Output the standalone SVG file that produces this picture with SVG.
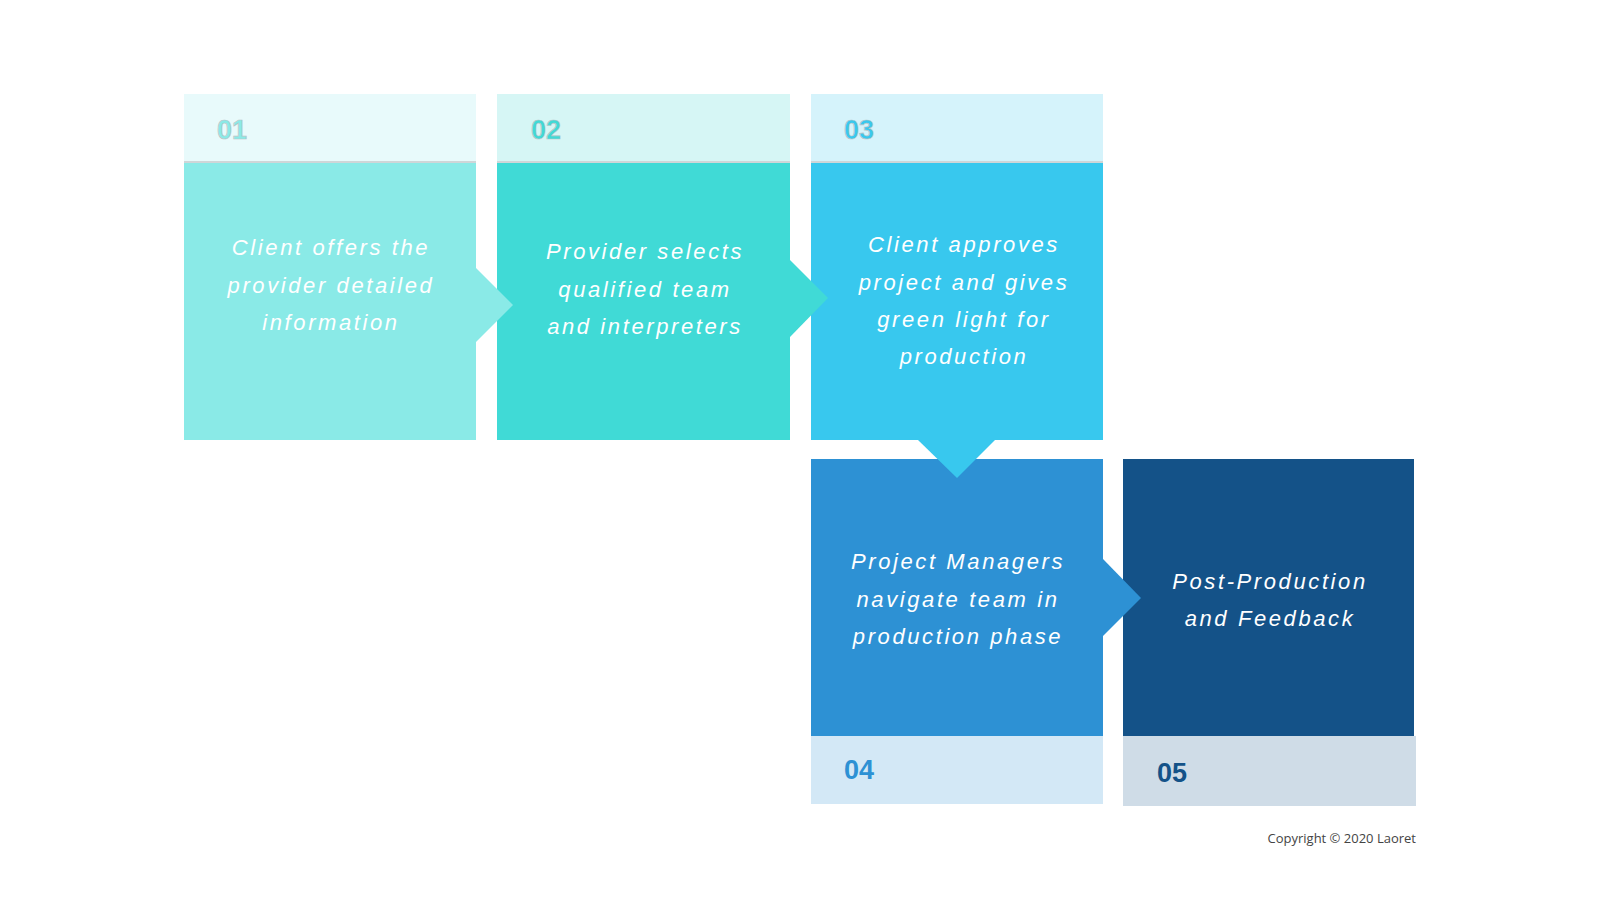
<svg xmlns="http://www.w3.org/2000/svg" width="1600" height="900" viewBox="0 0 1600 900">
<style>
.lbl{font-family:"Liberation Sans",Arial,sans-serif;font-style:italic;font-size:22px;letter-spacing:2.6px;fill:#ffffff;text-anchor:middle}
.num{font-family:"Liberation Sans",Arial,sans-serif;font-weight:bold;font-size:27px}
.numo{stroke:#b9c4c6;stroke-width:0.7}
.div{stroke:#cfd6d8;stroke-width:2}
.copy{font-family:"Open Sans","Liberation Sans",sans-serif;font-size:13px;fill:#444444;text-anchor:end}
</style>
<rect width="1600" height="900" fill="#ffffff"/>
<g id="step1">
<rect x="184" y="94" width="292" height="68" fill="#E8FAFB"/>
<rect x="184" y="162" width="292" height="278" fill="#8AEAE7"/>
<line class="div" x1="184" y1="162" x2="476" y2="162"/>
<text class="num numo" x="217" y="139" fill="#8AEAE7">01</text>
<text class="lbl" x="331" y="255">Client offers the</text>
<text class="lbl" x="331" y="293">provider detailed</text>
<text class="lbl" x="331" y="330">information</text>
</g>
<g id="step2">
<rect x="497" y="94" width="293" height="68" fill="#D6F6F5"/>
<rect x="497" y="162" width="293" height="278" fill="#40DAD6"/>
<line class="div" x1="497" y1="162" x2="790" y2="162"/>
<text class="num numo" x="531" y="139" fill="#40DAD6">02</text>
<text class="lbl" x="645" y="259">Provider selects</text>
<text class="lbl" x="645" y="297">qualified team</text>
<text class="lbl" x="645" y="334">and interpreters</text>
</g>
<g id="step3">
<rect x="811" y="94" width="292" height="68" fill="#D5F3FB"/>
<rect x="811" y="162" width="292" height="278" fill="#38C8EE"/>
<line class="div" x1="811" y1="162" x2="1103" y2="162"/>
<text class="num numo" x="844" y="139" fill="#38C8EE">03</text>
<text class="lbl" x="964" y="252">Client approves</text>
<text class="lbl" x="964" y="290">project and gives</text>
<text class="lbl" x="964" y="327">green light for</text>
<text class="lbl" x="964" y="364">production</text>
</g>
<g id="step4">
<rect x="811" y="459" width="292" height="277" fill="#2D91D4"/>
<rect x="811" y="736" width="292" height="68" fill="#D3E8F6"/>
<text class="num" x="844" y="779" fill="#2D91D4">04</text>
<text class="lbl" x="958" y="569">Project Managers</text>
<text class="lbl" x="958" y="607">navigate team in</text>
<text class="lbl" x="958" y="644">production phase</text>
</g>
<g id="step5">
<rect x="1123" y="459" width="291" height="277" fill="#145288"/>
<rect x="1123" y="736" width="293" height="70" fill="#CFDCE7"/>
<text class="num" x="1157" y="782" fill="#145288">05</text>
<text class="lbl" x="1270" y="589">Post-Production</text>
<text class="lbl" x="1270" y="626">and Feedback</text>
</g>
<g id="connectors">
<polygon points="476,268 513,305 476,342" fill="#8AEAE7"/>
<polygon points="790,260 828,298 790,337" fill="#40DAD6"/>
<polygon points="918,440 995,440 957,478" fill="#38C8EE"/>
<polygon points="1103,559 1141,598 1103,636" fill="#2D91D4"/>
</g>
<text class="copy" x="1416" y="843">Copyright © 2020 Laoret</text>
</svg>
